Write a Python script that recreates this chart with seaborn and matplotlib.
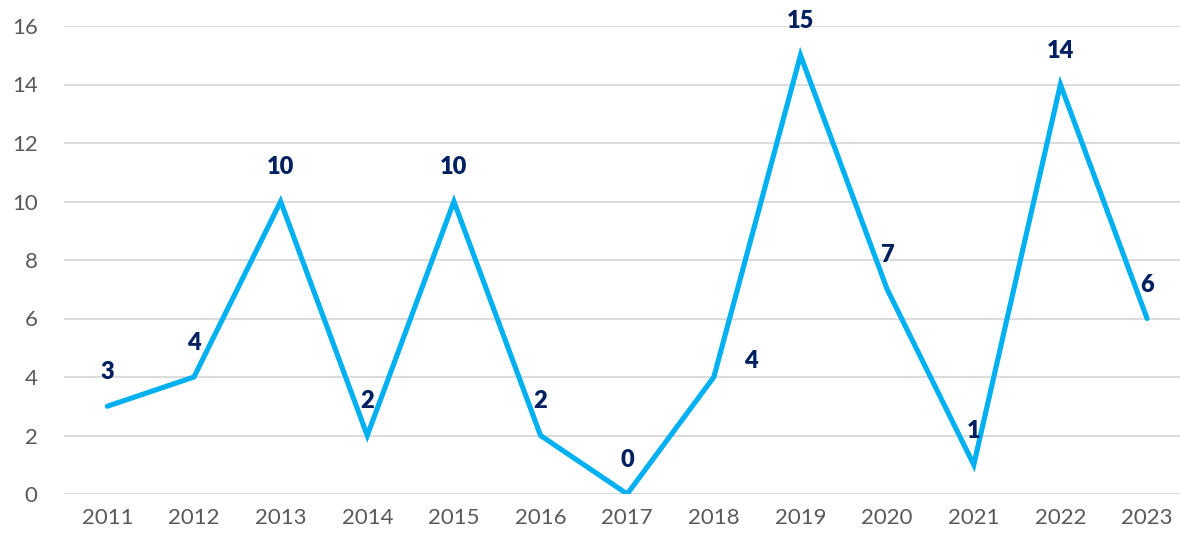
import matplotlib.pyplot as plt
import seaborn as sns
import pandas as pd

years = [2011, 2012, 2013, 2014, 2015, 2016, 2017, 2018, 2019, 2020, 2021, 2022, 2023]
counts = [3, 4, 10, 2, 10, 2, 0, 4, 15, 7, 1, 14, 6]

sns.set_theme(style='white')
plt.rcParams['font.family'] = ['Lato', 'DejaVu Sans']

df = pd.DataFrame({'year': years, 'count': counts})

fig = plt.figure(figsize=(11.8, 5.43), dpi=100)
ax = fig.add_axes([64 / 1180, 49 / 543, 1 - 64 / 1180, (494 - 26) / 543])

sns.lineplot(data=df, x='year', y='count', color='#00B0F0', linewidth=3.7,
             solid_joinstyle='miter', ax=ax, zorder=3)

ax.set_xlim(2010.5, 2023.38)
ax.set_ylim(0, 16)
ax.set_yticks(range(0, 17, 2))
ax.set_xticks(years)
ax.set_xticklabels([str(y) for y in years])
ax.yaxis.grid(True, color='#D9D9D9', linewidth=1.3)
ax.set_axisbelow(True)
for s in ax.spines.values():
    s.set_visible(False)
ax.tick_params(axis='both', length=0, labelsize=16, labelcolor='#595959', pad=10)
ax.tick_params(axis='y', pad=19)
ax.set_xlabel('')
ax.set_ylabel('')

for yr, v in zip(years, counts):
    dx, dy = (37, 16) if yr == 2018 else (0, 34)
    ax.annotate(str(v), (yr, v), xytext=(dx, dy), textcoords='offset pixels',
                ha='center', va='center', fontsize=17, fontweight='heavy',
                color='#002060', zorder=4)

fig.savefig('out.png', dpi=100)
